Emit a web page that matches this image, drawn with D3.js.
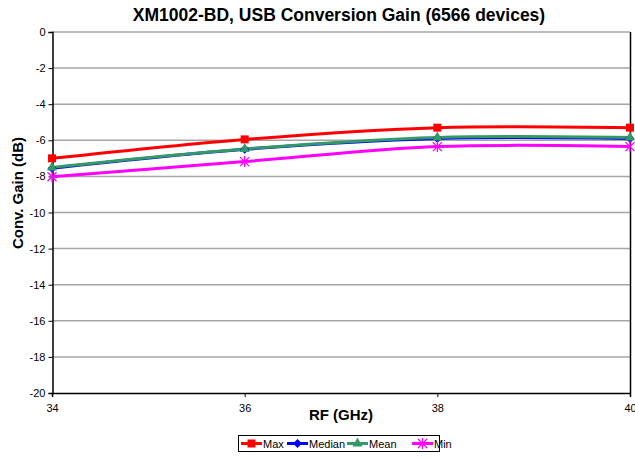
<!DOCTYPE html>
<html>
<head>
<meta charset="utf-8">
<script src="https://d3js.org/d3.v7.min.js"></script>
<style>
  body { margin: 0; background: #fff; }
  svg text { font-family: "Liberation Sans", Arial, sans-serif; }
</style>
</head>
<body>
<svg width="635" height="458" font-family="Liberation Sans, Arial, sans-serif"></svg>
<script>
// data
var freqs = [34, 36, 38, 40];
var maxGain = [-7.0, -5.95, -5.3, -5.3];
var medianGain = [-7.55, -6.5, -5.9, -5.9];
var meanGain = [-7.5, -6.48, -5.84, -5.84];
var minGain = [-8.02, -7.18, -6.35, -6.35];
var yTicks = [0, -2, -4, -6, -8, -10, -12, -14, -16, -18, -20];
var xTicks = [34, 36, 38, 40];

var series = [
  {name: "Max", values: maxGain, color: "#ff0000", marker: "square"},
  {name: "Median", values: medianGain, color: "#0000ff", marker: "diamond"},
  {name: "Mean", values: meanGain, color: "#339966", marker: "triangle"},
  {name: "Min", values: minGain, color: "#ff00ff", marker: "star"}
];

var svg = d3.select("svg");
var x = d3.scaleLinear().domain([34, 40]).range([52, 630]);
var y = d3.scaleLinear().domain([-20, 0]).range([393, 32]);
var fmt = function(d){ return String(d); };

// gridlines
svg.append("g").selectAll("line")
  .data(yTicks.filter(function(d){ return d > -20; }))
  .enter().append("line")
  .attr("x1", 52).attr("x2", 630)
  .attr("y1", function(d){ return y(d); })
  .attr("y2", function(d){ return y(d); })
  .style("stroke", "#a6a6a6")
  .style("stroke-width", 1.5);

// right border
svg.append("line")
  .attr("x1", 630.5).attr("x2", 630.5).attr("y1", 32).attr("y2", 393)
  .style("stroke", "#000").style("stroke-width", 1.5);

// axes
var yAxis = svg.append("g")
  .attr("transform", "translate(52.5,0)")
  .call(d3.axisLeft(y).tickValues(yTicks).tickFormat(fmt).tickSize(4).tickPadding(3));
var xAxis = svg.append("g")
  .attr("transform", "translate(0,393)")
  .call(d3.axisBottom(x).tickValues(xTicks).tickFormat(fmt).tickSize(4).tickPadding(7));
[yAxis, xAxis].forEach(function(a){
  a.attr("font-family", "Liberation Sans, Arial, sans-serif");
  a.select(".domain").style("stroke", "#000").style("stroke-width", 1.5);
  a.selectAll(".tick line").style("stroke", "#000");
  a.selectAll("text").style("font-size", "11px").style("fill", "#000");
});

// lines
var line = d3.line()
  .x(function(d){ return x(d[0]); })
  .y(function(d){ return y(d[1]); })
  .curve(d3.curveCatmullRom.alpha(0.5));

function pts(s){ return freqs.map(function(f, i){ return [f, s.values[i]]; }); }

series.forEach(function(s){
  svg.append("path")
    .datum(pts(s))
    .attr("d", line)
    .style("fill", "none")
    .style("stroke", s.color)
    .style("stroke-width", 3);
});

function drawMarker(g, type, color, cx, cy){
  if (type === "square") {
    g.append("rect").attr("x", cx - 4).attr("y", cy - 4).attr("width", 8).attr("height", 8)
      .style("fill", color);
  } else if (type === "diamond") {
    g.append("path").attr("d", "M" + cx + "," + (cy - 4.5) + "L" + (cx + 4.5) + "," + cy + "L" + cx + "," + (cy + 4.5) + "L" + (cx - 4.5) + "," + cy + "Z")
      .style("fill", color);
  } else if (type === "triangle") {
    g.append("path").attr("d", "M" + cx + "," + (cy - 6) + "L" + (cx + 5) + "," + (cy + 3) + "L" + (cx - 5) + "," + (cy + 3) + "Z")
      .style("fill", color);
  } else {
    var r = 4.5;
    g.append("path")
      .attr("d", "M" + (cx - r) + "," + (cy - r) + "L" + (cx + r) + "," + (cy + r) +
                 "M" + (cx - r) + "," + (cy + r) + "L" + (cx + r) + "," + (cy - r) +
                 "M" + cx + "," + (cy - r - 1) + "L" + cx + "," + (cy + r + 1))
      .style("stroke", color).style("stroke-width", 1.3).style("fill", "none");
  }
}

series.forEach(function(s){
  var g = svg.append("g");
  pts(s).forEach(function(p){ drawMarker(g, s.marker, s.color, x(p[0]), y(p[1])); });
});

// title and axis labels
svg.append("text")
  .attr("x", 339).attr("y", 21)
  .style("text-anchor", "middle")
  .style("font-size", "17.5px").style("font-weight", "bold")
  .text("XM1002-BD, USB Conversion Gain (6566 devices)");
svg.append("text")
  .attr("x", 341).attr("y", 420)
  .style("text-anchor", "middle")
  .style("font-size", "15px").style("font-weight", "bold")
  .text("RF (GHz)");
svg.append("text")
  .attr("transform", "translate(23,193) rotate(-90)")
  .style("text-anchor", "middle")
  .style("font-size", "15px").style("font-weight", "bold")
  .text("Conv. Gain (dB)");

// legend
var legend = svg.append("g");
legend.append("rect")
  .attr("x", 238.5).attr("y", 435.5).attr("width", 201).attr("height", 16)
  .style("fill", "#fff").style("stroke", "#000").style("stroke-width", 1);
var legendX = [241, 287, 347, 412];
series.forEach(function(s, i){
  var lx = legendX[i], ly = 443.5;
  legend.append("line")
    .attr("x1", lx).attr("x2", lx + 21).attr("y1", ly).attr("y2", ly)
    .style("stroke", s.color).style("stroke-width", 3);
  drawMarker(legend, s.marker, s.color, lx + 10.5, ly);
  legend.append("text")
    .attr("x", lx + 22).attr("y", ly + 4)
    .style("font-size", "11px")
    .text(s.name);
});
</script>
</body>
</html>
